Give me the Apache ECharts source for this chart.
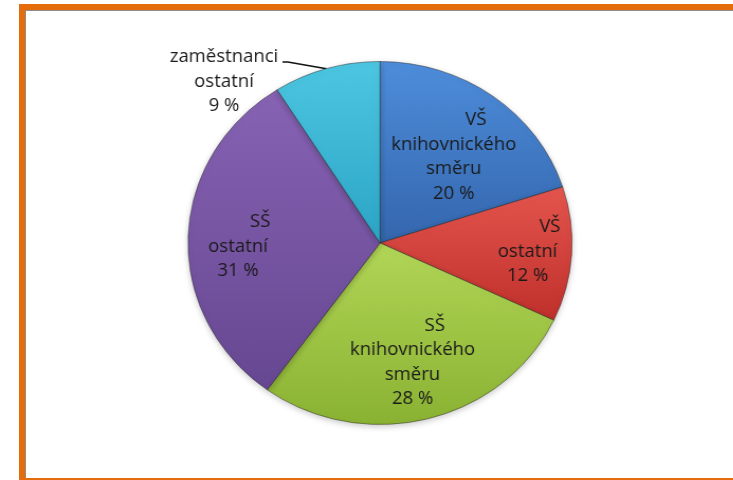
<!DOCTYPE html>
<html>
<head>
<meta charset="utf-8">
<script src="https://cdn.jsdelivr.net/npm/echarts@6/dist/echarts.min.js"></script>
<style>
  html, body { margin: 0; padding: 0; background: #fff; overflow: hidden; }
  #frame {
    position: absolute; left: 19px; top: 4px; width: 760px; height: 480px;
    border-left: 6px solid #e46c0a; border-top: 6px solid #e46c0a; border-bottom: 6px solid #e46c0a;
    box-sizing: border-box;
  }
  #inner {
    position: absolute; left: 0; top: 0; right: 0; bottom: 0;
    border-left: 1px solid #8c8c8c; border-top: 1px solid #8c8c8c;
  }
  #chart {
    position: absolute; left: 0; top: 0; width: 693px; height: 480px;
    transform-origin: 0 0; transform: scaleX(1.058);
  }
</style>
</head>
<body>
<div id="frame"><div id="inner"></div></div>
<div id="chart"></div>
<script>
  // data
  const LABELS = [
    ["VŠ", "knihovnického", "směru"],
    ["VŠ", "ostatní"],
    ["SŠ", "knihovnického", "směru"],
    ["SŠ", "ostatní"],
    ["zaměstnanci", "ostatní"],
  ];
  const VALUES = [20, 12, 28, 31, 9];
  const TOP_COLORS = ["#4e8ddb", "#e4554e", "#b2d657", "#8763b4", "#4cc6e1"];
  const BOTTOM_COLORS = ["#3466ad", "#c0302b", "#8ab232", "#664791", "#2ca5c6"];

  // layout
  const CX = 359.2, CY = 243, R = 181.5;
  const INSIDE = [[0.61, 39], [0.77, 93.6], [0.68, 165.6], [0.74, 268.5]];
  const TEXT = "#1a1a1a";
  const FONT = { fontFamily: "Open Sans", fontSize: 17.5, lineHeight: 24.5, color: TEXT, align: "center" };

  const total = VALUES.reduce((a, b) => a + b, 0);
  const mids = [];
  let cum = 0;
  VALUES.forEach((v) => { mids.push((cum + v / 2) / total * 360); cum += v; });

  const data = VALUES.map((v, i) => {
    const item = {
      value: v,
      name: LABELS[i].join(" "),
      itemStyle: {
        color: new echarts.graphic.LinearGradient(0, 0, 0, 1, [
          { offset: 0, color: TOP_COLORS[i] },
          { offset: 1, color: BOTTOM_COLORS[i] },
        ]),
      },
    };
    if (i === 4) {
      item.label = { position: "outside" };
      item.labelLine = { show: true, lineStyle: { color: "#111", width: 1.5 } };
    }
    return item;
  });

  const chart = echarts.init(document.getElementById("chart"), null, { renderer: "canvas" });
  chart.setOption({
    backgroundColor: "transparent",
    animation: false,
    series: [{
      type: "pie",
      center: [CX, CY],
      radius: R,
      startAngle: 90,
      clockwise: true,
      silent: true,
      data,
      itemStyle: {
        borderColor: "rgba(30,30,30,0.45)", borderWidth: 1,
        shadowBlur: 6, shadowColor: "rgba(0,0,0,0.22)", shadowOffsetY: 2,
      },
      label: {
        show: true,
        position: "inside",
        formatter: (p) => {
          const l = LABELS[p.dataIndex];
          const first = p.dataIndex < 4 ? "{h|" + l[0] + "}" : "{t|" + l[0] + "}";
          return [first].concat(l.slice(1).map((s) => "{t|" + s + "}"), ["{t|" + p.value + " %}"]).join("\n");
        },
        rich: {
          t: FONT,
          h: Object.assign({}, FONT, { padding: [0, 0, 0, 42] }),
        },
      },
      labelLine: { show: false },
      labelLayout: (params) => {
        const i = params.dataIndex;
        if (i === 4) {
          const a = mids[i] * Math.PI / 180;
          const edge = [CX + R * Math.sin(a), CY - R * Math.cos(a)];
          return {
            x: 211.7, y: 45, align: "center", verticalAlign: "top",
            labelLinePoints: [edge, [272, 62], [267, 62]],
          };
        }
        const [f, deg] = INSIDE[i];
        const a = deg * Math.PI / 180;
        return {
          x: CX + f * R * Math.sin(a),
          y: CY - f * R * Math.cos(a),
          align: "center", verticalAlign: "middle",
        };
      },
    }],
  });
</script>
</body>
</html>
